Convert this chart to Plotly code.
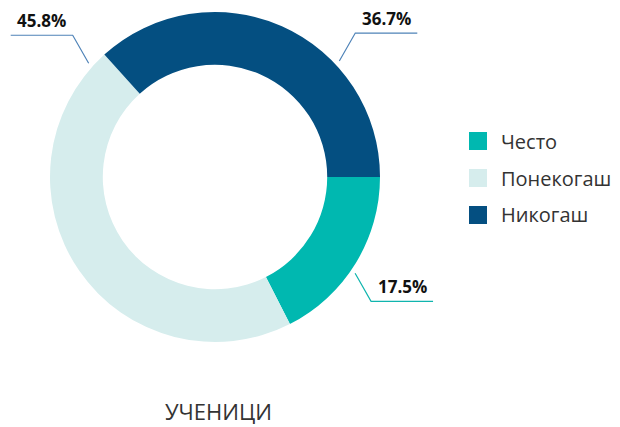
import math
import plotly.graph_objects as go

# Data
categories = ['Често', 'Понекогаш', 'Никогаш']
shares = [17.5, 45.8, 36.7]
colors = ['#00b8b0', '#d6eded', '#044f81']
line_colors = ['#10b5ae', '#4f83b8', '#4f83b8']
group_label = 'УЧЕНИЦИ'

# the page body adds an 8px margin, so the figure is a bit smaller
OFF = 8
W, H = 620 - OFF, 427 - OFF

# pie placement (window pixels)
cx, cy, r = 215, 177, 165


def px(x):
    return (x - OFF) / W


def py(y):
    return 1 - (y - OFF) / H


fig = go.Figure()
fig.add_trace(go.Pie(
    labels=categories,
    values=shares,
    hole=0.68,
    sort=False,
    direction='clockwise',
    rotation=90,
    marker=dict(colors=colors, line=dict(width=0)),
    textinfo='none',
    hoverinfo='label+percent',
    showlegend=False,
    domain=dict(x=[px(cx - r), px(cx + r)], y=[py(cy + r), py(cy - r)]),
))

# label angle (deg clockwise from 3 o'clock) and side of the horizontal tail
label_angles = [34.5, 222, 317]
sides = [1, -1, 1]
tail = 62
kink = 28

for val, ang, side, lc in zip(shares, label_angles, sides, line_colors):
    a = math.radians(ang)
    x0 = cx + (r + 5) * math.cos(a)
    y0 = cy + (r + 5) * math.sin(a)
    dy = kink if math.sin(a) > 0 else -kink
    dx = side * abs(dy) * 0.57
    x1, y1 = x0 + dx, y0 + dy
    x2 = x1 + side * tail
    fig.add_shape(type='path',
                  path=f'M {px(x0)} {py(y0)} L {px(x1)} {py(y1)} L {px(x2)} {py(y1)}',
                  xref='paper', yref='paper',
                  line=dict(color=lc, width=1.2))
    fig.add_annotation(
        x=px((x1 + x2) / 2), y=py(y1 - 1),
        xref='paper', yref='paper',
        text=f'<b>{val}%</b>', showarrow=False,
        xanchor='center', yanchor='bottom',
        font=dict(size=17, color='#111111', family='Open Sans'),
    )

# legend (square swatches + labels)
leg_x, leg_y0, leg_step, sw = 469, 141, 37, 18
for i, (name, col) in enumerate(zip(categories, colors)):
    yc = leg_y0 + i * leg_step
    fig.add_shape(type='rect', xref='paper', yref='paper',
                  x0=px(leg_x), x1=px(leg_x + sw),
                  y0=py(yc + sw / 2), y1=py(yc - sw / 2),
                  fillcolor=col, line=dict(width=0))
    fig.add_annotation(
        x=px(leg_x + sw + 12), y=py(yc), xref='paper', yref='paper',
        text=name, showarrow=False, xanchor='left', yanchor='middle',
        font=dict(size=20, color='#333333', family='Open Sans'),
    )

fig.add_annotation(
    x=px(218), y=py(411), xref='paper', yref='paper',
    text=group_label, showarrow=False,
    xanchor='center', yanchor='middle',
    font=dict(size=22, color='#333333', family='Open Sans'),
)

fig.update_layout(
    width=W, height=H,
    margin=dict(l=0, r=0, t=0, b=0),
    paper_bgcolor='white',
    plot_bgcolor='white',
    font=dict(family='Open Sans', color='#333333'),
)

fig.write_html('out.html')
